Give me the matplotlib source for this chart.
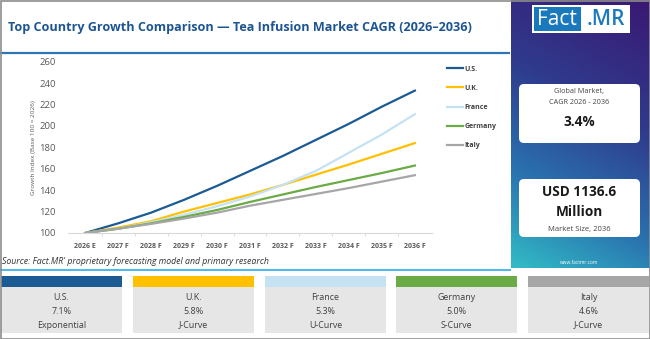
import numpy as np
import matplotlib
matplotlib.use('Agg')
import matplotlib.pyplot as plt
from matplotlib.patches import Rectangle, FancyBboxPatch
from matplotlib.colors import LinearSegmentedColormap

plt.rcParams['font.family'] = ['Open Sans', 'DejaVu Sans']

# data
years = ['2026 E', '2027 F', '2028 F', '2029 F', '2030 F', '2031 F',
         '2032 F', '2033 F', '2034 F', '2035 F', '2036 F']
countries = ['U.S.', 'U.K.', 'France', 'Germany', 'Italy']
us = [100, 109, 119, 131, 144, 158, 172, 187, 202, 218, 233]
uk = [100, 105, 111, 120, 128, 136, 145, 154.5, 164, 174, 184]
france = [100, 104, 110, 117, 125, 134, 145, 158, 175, 192, 211]
germany = [100, 104, 109, 115, 121.5, 129, 136, 143, 149.5, 156, 163]
italy = [100, 104, 108.5, 113.5, 119, 125.5, 131, 136.5, 142, 148, 154]
cagr = ['7.1%', '5.8%', '5.3%', '5.0%', '4.6%']
shape = ['Exponential', 'J-Curve', 'U-Curve', 'S-Curve', 'J-Curve']
colors = ['#1b5a93', '#ffc000', '#c5e2f3', '#6aab45', '#a6a6a6']

W, H = 650, 339
fig = plt.figure(figsize=(W / 100, H / 100), dpi=100)
fig.patch.set_facecolor('white')

# background axes in pixel coordinates
bg = fig.add_axes([0, 0, 1, 1])
bg.set_xlim(0, W)
bg.set_ylim(H, 0)
bg.axis('off')

# right gradient panel
px0, px1, py0, py1 = 511, 650, 0, 268
ny, nx = 200, 100
t = np.linspace(0, 1, ny)[:, None]
s = np.linspace(0, 1, nx)[None, :]
u = 0.78 * t + 0.22 * (1 - s)
cmap = LinearSegmentedColormap.from_list('panel', [(0, '#3a1872'), (0.4, '#2f3c8e'),
                                                   (0.72, '#2a74b0'), (1, '#32bcc6')])
bg.imshow(u, cmap=cmap, extent=(px0, px1, py1, py0), aspect='auto', zorder=0,
          interpolation='bilinear', vmin=0, vmax=1)

# logo
bg.add_patch(Rectangle((532, 5), 98, 28, facecolor='white', edgecolor='none', zorder=2))
bg.add_patch(Rectangle((534, 7), 47, 24, facecolor='#1a78bd', edgecolor='none', zorder=3))
bg.text(557, 19.5, 'Fact', color='white', fontsize=15, ha='center', va='center', zorder=4)
bg.text(606, 19.5, '.MR', color='#1a78bd', fontsize=15, ha='center', va='center',
        fontweight='semibold', zorder=4)

# info boxes
for yb, hb in [(84, 59), (179, 58)]:
    bg.add_patch(FancyBboxPatch((519, yb), 121, hb, boxstyle='round,pad=0,rounding_size=5',
                                facecolor='white', edgecolor='none', zorder=2))
bg.text(579, 91, 'Global Market,', fontsize=5.2, ha='center', va='center', color='#444444', zorder=3)
bg.text(579, 103, 'CAGR 2026 - 2036', fontsize=5.2, ha='center', va='center', color='#444444', zorder=3)
bg.text(579, 122, '3.4%', fontsize=9.8, ha='center', va='center', color='#1a1a1a',
        fontweight='bold', zorder=3)
bg.text(579, 192, 'USD 1136.6', fontsize=9.8, ha='center', va='center', color='#1a1a1a',
        fontweight='bold', zorder=3)
bg.text(579, 212, 'Million', fontsize=9.8, ha='center', va='center', color='#1a1a1a',
        fontweight='bold', zorder=3)
bg.text(579, 229, 'Market Size, 2036', fontsize=5.5, ha='center', va='center', color='#444444', zorder=3)
bg.text(579, 262, 'www.factmr.com', fontsize=3.5, ha='center', va='center', color='white', zorder=3)

# title and rules
bg.text(8, 28, 'Top Country Growth Comparison \u2014 Tea Infusion Market CAGR (2026\u20132036)',
        fontsize=9.1, fontweight='bold', color='#1d5592', ha='left', va='center')
bg.plot([0, 510], [53, 53], color='#2e75b6', lw=1.6, solid_capstyle='butt')
bg.text(2, 262, "Source: Fact.MR' proprietary forecasting model and primary research",
        fontsize=6.3, style='italic', color='#333333', ha='left', va='center')
bg.plot([0, 511], [270, 270], color='#47b9ea', lw=1.4, solid_capstyle='butt')

# bottom cards
card_x = [1, 133, 265, 396, 528]
card_w = 121
for i, c in enumerate(countries):
    x0 = card_x[i]
    bg.add_patch(Rectangle((x0, 276), card_w, 11, facecolor=colors[i], edgecolor='none'))
    bg.add_patch(Rectangle((x0, 287), card_w, 46, facecolor='#e6e6e6', edgecolor='none'))
    xc = x0 + card_w / 2
    bg.text(xc, 298, c, fontsize=6.4, ha='center', va='center', color='#404040')
    bg.text(xc, 311.5, cagr[i], fontsize=6.4, ha='center', va='center', color='#404040')
    bg.text(xc, 325, shape[i], fontsize=6.4, ha='center', va='center', color='#404040')

# outer frame
bg.add_patch(Rectangle((0.5, 0.5), W - 1, H - 1, facecolor='none', edgecolor='#8c8c8c', lw=1.2, zorder=10))

# line chart
ax = fig.add_axes([68 / W, 1 - 233 / H, (432 - 68) / W, (233 - 61.7) / H])
ax.patch.set_alpha(0)
x = np.arange(len(years))
series = [us, uk, france, germany, italy]
for i, c in enumerate(countries):
    ax.plot(x, series[i], color=colors[i], lw=1.6, label=c)
ax.set_xlim(-0.52, len(years) - 0.48)
ax.set_ylim(100, 260)
ax.set_yticks(range(100, 261, 20))
ax.set_xticks(x)
ax.set_xticklabels(years)
ax.set_xticks(np.arange(0.5, len(years) - 1, 1), minor=True)
for sp in ['top', 'right', 'left']:
    ax.spines[sp].set_visible(False)
ax.spines['bottom'].set_color('#d9d9d9')
ax.tick_params(axis='y', length=0, pad=9, labelsize=6.8, labelcolor='#595959')
ax.tick_params(axis='x', which='major', length=0, pad=7, labelsize=5, labelcolor='#595959')
ax.tick_params(axis='x', which='minor', length=2.5, color='#d9d9d9')
for lbl in ax.get_xticklabels():
    lbl.set_fontweight('bold')
ax.set_ylabel('Growth Index (Base 100 = 2026)', fontsize=4.6, color='#595959', labelpad=2)
ax.yaxis.set_label_coords(-0.088, 0.5)

leg = ax.legend(loc='upper left', bbox_to_anchor=((444 - 68) / (432 - 68), 1 - (63 - 61.7) / (233 - 61.7)),
                frameon=False, fontsize=5, handlelength=2.4, handletextpad=0.1,
                labelspacing=1.75, borderaxespad=0)
for txt in leg.get_texts():
    txt.set_fontweight('bold')
    txt.set_color('#404040')

fig.savefig('out.png', dpi=100)
